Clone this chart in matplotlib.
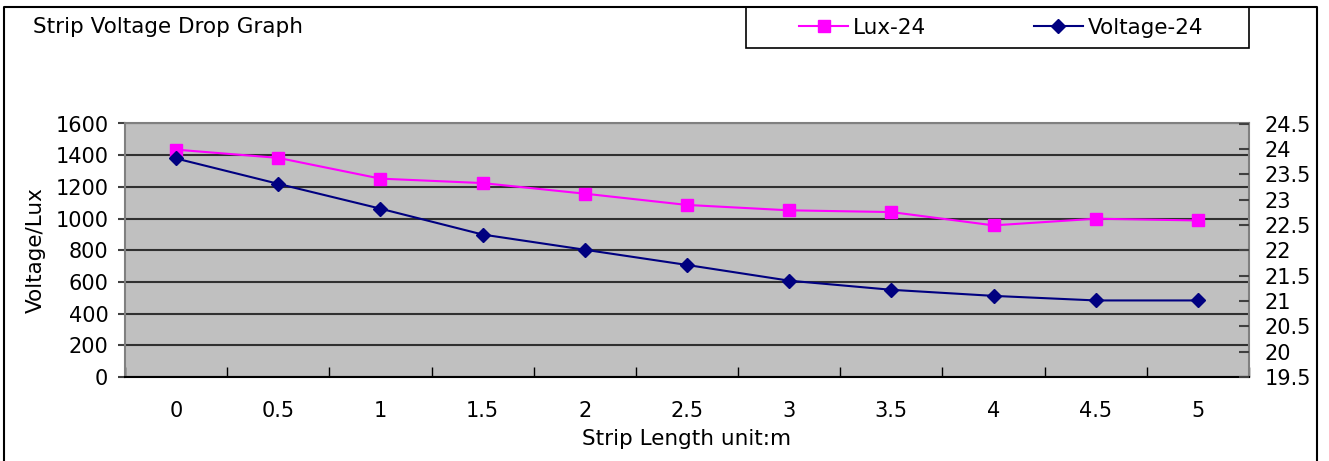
import matplotlib.pyplot as plt
from matplotlib.patches import Rectangle
from matplotlib.lines import Line2D

# Data
lengths = ["0", "0.5", "1", "1.5", "2", "2.5", "3", "3.5", "4", "4.5", "5"]
lux = [1435, 1383, 1252, 1224, 1157, 1086, 1052, 1041, 957, 999, 988]
voltage = [23.81, 23.31, 22.82, 22.31, 22.01, 21.71, 21.40, 21.22, 21.10, 21.01, 21.01]

left_ticks = [0, 200, 400, 600, 800, 1000, 1200, 1400, 1600]
right_ticks = [19.5, 20, 20.5, 21, 21.5, 22, 22.5, 23, 23.5, 24, 24.5]

plt.rcParams['font.family'] = ['DejaVu Sans']
fs = 15
fs_txt = 15.5

W, H = 1329, 461
fig = plt.figure(figsize=(W / 100, H / 100), dpi=100)

# axes box in pixels: x 125..1249, y 123.5..377
ax = fig.add_axes([125 / W, (H - 377) / H, (1249 - 125) / W, (377 - 123.5) / H])
ax.set_facecolor('#C0C0C0')
for s in ax.spines.values():
    s.set_color('#808080')
    s.set_linewidth(1.5)
ax.spines['bottom'].set_color('#000000')

x = list(range(len(lengths)))
ax.set_xlim(-0.5, len(lengths) - 0.5)
ax.set_ylim(0, 1600)
ax.set_yticks(left_ticks)
ax.yaxis.grid(True, color='#303030', linewidth=1.5)
ax.set_axisbelow(True)

# categories on centers, tick marks on boundaries
ax.set_xticks(x)
ax.set_xticklabels(lengths, fontsize=fs)
ax.set_xticks([i - 0.5 for i in range(len(lengths) + 1)], minor=True)
ax.tick_params(axis='x', which='major', length=0, pad=17)
ax.tick_params(axis='x', which='minor', direction='in', length=7, width=1, color='#000000')
ax.tick_params(axis='y', labelsize=fs, direction='out', length=5, width=1.5, color='#404040', pad=7)

ax.set_xlabel("Strip Length unit:m", fontsize=fs_txt, labelpad=6)
ax.set_ylabel("Voltage/Lux", fontsize=fs_txt, labelpad=7)

l1, = ax.plot(x, lux, color='#FF00FF', linewidth=1.5, marker='s', markersize=8,
              markeredgecolor='#FF00FF', label='Lux-24')

ax2 = ax.twinx()
ax2.set_ylim(19.5, 24.5)
ax2.set_yticks(right_ticks)
ax2.set_yticklabels([('%g' % v) for v in right_ticks], fontsize=fs)
ax2.tick_params(axis='y', direction='in', length=7, width=1.5, color='#404040', pad=11)
for s in ax2.spines.values():
    s.set_visible(False)
l2, = ax2.plot(x, voltage, color='#000080', linewidth=1.5, marker='D', markersize=7,
               markeredgecolor='#000080', label='Voltage-24')

# chart title
fig.text(33 / W, 1 - 27 / H, "Strip Voltage Drop Graph", fontsize=fs_txt, va='center', ha='left')

# legend box: frame drawn separately, entries centred in it
fig.add_artist(Rectangle((746 / W, 1 - 48 / H), (1249 - 746) / W, 41 / H,
                         transform=fig.transFigure, facecolor='white',
                         edgecolor='#000000', linewidth=1.2))
leg = fig.legend(handles=[l1, l2], loc='center', ncol=2,
                 bbox_to_anchor=(1001 / W, 1 - 27.5 / H),
                 fontsize=fs_txt, frameon=False, handlelength=2.3,
                 handletextpad=0.2, columnspacing=5.0, borderaxespad=0)

# outer chart border (left, top, right)
fig.add_artist(Line2D([4 / W, 4 / W, 1317 / W, 1317 / W], [0, 1 - 7 / H, 1 - 7 / H, 0],
                      color='#000000', linewidth=1.5, transform=fig.transFigure))

fig.savefig("out.png", dpi=100)
